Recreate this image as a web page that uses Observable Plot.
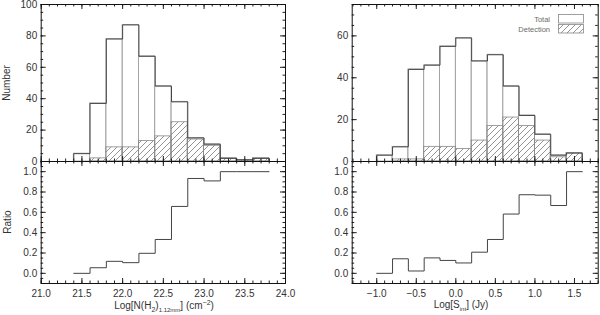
<!DOCTYPE html>
<html><head><meta charset="utf-8">
<script src="https://cdn.jsdelivr.net/npm/d3@7"></script>
<script src="https://cdn.jsdelivr.net/npm/@observablehq/plot@0.6"></script>
<style>
body{margin:0;background:#fff;}
#wrap{position:relative;width:600px;height:315px;font-family:"Liberation Sans",Arial,sans-serif;color:#222;overflow:hidden;}
.lbl{position:absolute;font-size:10px;white-space:nowrap;line-height:1;color:#333;}
.leg{position:absolute;font-size:7.5px;color:#6a6a6a;white-space:nowrap;line-height:1;}
</style></head><body>
<svg width="0" height="0" style="position:absolute">
<defs><pattern id="hatch" patternUnits="userSpaceOnUse" width="6" height="6">
<path d="M-1,1 L1,-1 M0,6 L6,0 M5,7 L7,5" stroke="#666" stroke-width="0.7"/>
</pattern></defs></svg>
<div id="wrap"></div>
<script>
// ---- data: log N(H2) histogram (bin left edges, width 0.2) ----
const binWidth = 0.2;
const nBinLo   = [21.4, 21.6, 21.8, 22.0, 22.2, 22.4, 22.6, 22.8, 23.0, 23.2, 23.4, 23.6];
const nTotal   = [5, 37, 78, 87, 67, 48, 38, 15, 11, 2, 1, 2];
const nDetect  = [0, 2, 9, 9, 13, 16, 25, 14, 10, 2, 1, 2];
const nRatio   = [0, 0.055, 0.118, 0.105, 0.197, 0.333, 0.658, 0.933, 0.909, 1.0, 1.0, 1.0];
// ---- data: log S_int histogram ----
const sBinLo   = [-1.0, -0.8, -0.6, -0.4, -0.2, 0.0, 0.2, 0.4, 0.6, 0.8, 1.0, 1.2, 1.4];
const sTotal   = [3, 7, 44, 46, 55, 59, 48, 51, 36, 22, 13, 3, 4];
const sDetect  = [0, 1, 1, 7, 7, 6, 10, 17, 21, 17, 10, 2, 4];
const sRatio   = [0, 0.143, 0.023, 0.152, 0.127, 0.102, 0.208, 0.333, 0.583, 0.773, 0.769, 0.667, 1.0];
// ---- tick labels ----
const nXTicks = [21.0, 21.5, 22.0, 22.5, 23.0, 23.5, 24.0];
const sXTicks = [-1.0, -0.5, 0.0, 0.5, 1.0, 1.5];
const nYTicks = [0, 20, 40, 60, 80, 100];
const sYTicks = [0, 20, 40, 60];
const ratioTicks = [0.0, 0.2, 0.4, 0.6, 0.8, 1.0];

const wrap = document.getElementById("wrap");
const fmt1 = d3.format(".1f");
const range10 = (a, b) => d3.range(a, b + 1).map(i => i / 10);
const range20 = (a, b) => d3.range(a, b + 1).map(i => i / 20);

function frameTicks(o) {
  const fw = o.width - o.ml - o.mr, fh = o.height - o.mt - o.mb;
  const M = 5, m = 2.5, c = "#222";
  return [
    Plot.tickX(o.xMajor, {x: d => d, insetTop: fh - M, stroke: c}),
    Plot.tickX(o.xMinor, {x: d => d, insetTop: fh - m, stroke: c}),
    Plot.tickX(o.xMajor, {x: d => d, insetBottom: fh - M, stroke: c}),
    Plot.tickX(o.xMinor, {x: d => d, insetBottom: fh - m, stroke: c}),
    Plot.tickY(o.yMajor, {y: d => d, insetRight: fw - M, stroke: c}),
    Plot.tickY(o.yMinor, {y: d => d, insetRight: fw - m, stroke: c}),
    Plot.tickY(o.yMajor, {y: d => d, insetLeft: fw - M, stroke: c}),
    Plot.tickY(o.yMinor, {y: d => d, insetLeft: fw - m, stroke: c}),
    Plot.frame({stroke: "#111", strokeWidth: 1})
  ];
}

function place(svg, left, top) {
  svg.style.position = "absolute";
  svg.style.left = left + "px";
  svg.style.top = top + "px";
  svg.style.overflow = "visible";
  svg.style.background = "transparent";
  wrap.appendChild(svg);
}

function histPanel(o) {
  const bins = o.lo.map((x, i) => ({x1: x, x2: x + binWidth, t: o.total[i], d: o.detect[i]}));
  const last = o.lo.length - 1;
  const env = [{x: o.lo[0], y: 0}, ...o.lo.map((x, i) => ({x, y: o.total[i]})),
               {x: o.lo[last] + binWidth, y: o.total[last]}, {x: o.lo[last] + binWidth, y: 0}];
  const svg = Plot.plot({
    width: o.width, height: o.height,
    marginLeft: o.ml, marginRight: o.mr, marginTop: o.mt, marginBottom: o.mb,
    x: {domain: o.xDomain, axis: null},
    y: {domain: o.yDomain, axis: null},
    style: {fontFamily: "Liberation Sans, Arial, sans-serif", fontSize: "10px", color: "#333", background: "transparent", overflow: "visible"},
    marks: [
      Plot.rect(bins, {x1: "x1", x2: "x2", y1: () => 0, y2: "t", fill: "none", stroke: "#a0a0a0", strokeWidth: 0.8}),
      Plot.rect(bins.filter(b => b.d > 0), {x1: "x1", x2: "x2", y1: () => 0, y2: "d", fill: "url(#hatch)", stroke: "#8a8a8a", strokeWidth: 0.8}),
      Plot.line(env, {x: "x", y: "y", curve: "step-after", stroke: "#444", strokeWidth: 1}),
      ...frameTicks(o),
      Plot.axisY({ticks: o.yLabels, tickSize: 0, tickPadding: 4, label: null, fontSize: 10})
    ]
  });
  place(svg, o.left, o.top);
}

function ratioPanel(o) {
  const last = o.lo.length - 1;
  const pts = [...o.lo.map((x, i) => ({x, y: o.ratio[i]})), {x: o.lo[last] + binWidth, y: o.ratio[last]}];
  const svg = Plot.plot({
    width: o.width, height: o.height,
    marginLeft: o.ml, marginRight: o.mr, marginTop: o.mt, marginBottom: o.mb,
    x: {domain: o.xDomain, axis: null},
    y: {domain: [-0.1, 1.1], axis: null},
    style: {fontFamily: "Liberation Sans, Arial, sans-serif", fontSize: "10px", color: "#333", background: "transparent", overflow: "visible"},
    marks: [
      Plot.line(pts, {x: "x", y: "y", curve: "step-after", stroke: "#444", strokeWidth: 1}),
      ...frameTicks(o),
      Plot.axisY({ticks: ratioTicks, tickSize: 0, tickPadding: 4, label: null, tickFormat: fmt1, fontSize: 10}),
      Plot.axisX({ticks: o.xLabels, tickSize: 0, tickPadding: 6, label: null, tickFormat: fmt1, fontSize: 10})
    ]
  });
  place(svg, o.left, o.top);
}

const L = {ml: 40.7, mr: 15, width: 300};
const R = {ml: 51.7, mr: 2.3, width: 300};

histPanel({...L, left: 0, top: 0, height: 161, mt: 4, mb: 0, lo: nBinLo, total: nTotal, detect: nDetect,
  xDomain: [21, 24], yDomain: [0, 100], xMajor: nXTicks, xMinor: range10(210, 240),
  yMajor: nYTicks, yMinor: d3.range(0, 101, 5), yLabels: nYTicks});
ratioPanel({...L, left: 0, top: 161, height: 122, mt: 0, mb: 0, lo: nBinLo, ratio: nRatio,
  xDomain: [21, 24], xMajor: nXTicks, xMinor: range10(210, 240), xLabels: nXTicks,
  yMajor: ratioTicks, yMinor: range20(-2, 22)});
histPanel({...R, left: 300, top: 0, height: 161, mt: 4, mb: 0, lo: sBinLo, total: sTotal, detect: sDetect,
  xDomain: [-1.31, 1.80], yDomain: [0, 75], xMajor: sXTicks, xMinor: range10(-13, 18),
  yMajor: sYTicks, yMinor: d3.range(0, 76, 5), yLabels: sYTicks});
ratioPanel({...R, left: 300, top: 161, height: 122, mt: 0, mb: 0, lo: sBinLo, ratio: sRatio,
  xDomain: [-1.31, 1.80], xMajor: sXTicks, xMinor: range10(-13, 18), xLabels: sXTicks,
  yMajor: ratioTicks, yMinor: range20(-2, 22)});

function label(html, x, y, rot) {
  const d = document.createElement("div");
  d.className = "lbl";
  d.innerHTML = html;
  d.style.left = x + "px"; d.style.top = y + "px";
  d.style.transform = "translate(-50%,-50%)" + (rot ? " rotate(-90deg)" : "");
  wrap.appendChild(d);
}
label("Number", 7, 83, true);
label("Ratio", 8, 222, true);
label('Log[N(H<sub style="font-size:7px">2</sub>)<sub style="font-size:6px">1.12mm</sub>] (cm<sup style="font-size:7px">&minus;2</sup>)', 164, 306);
label('Log[S<sub style="font-size:6px">int</sub>] (Jy)', 461, 306);

// legend
const legTexts = ["Total", "Detection"];
const legFills = ["none", "url(#hatch)"];
legTexts.forEach((t, i) => {
  const d = document.createElement("div");
  d.className = "leg";
  d.textContent = t;
  d.style.right = (600 - 550) + "px";
  d.style.top = (20 + i * 10) + "px";
  d.style.transform = "translateY(-50%)";
  wrap.appendChild(d);
});
const ns = "http://www.w3.org/2000/svg";
const ls = document.createElementNS(ns, "svg");
ls.setAttribute("width", 600); ls.setAttribute("height", 315);
ls.style.position = "absolute"; ls.style.left = "0"; ls.style.top = "0"; ls.style.pointerEvents = "none";
legFills.forEach((f, i) => {
  const r = document.createElementNS(ns, "rect");
  r.setAttribute("x", 558.5); r.setAttribute("y", 14.5 + i * 10);
  r.setAttribute("width", 25); r.setAttribute("height", 8.5);
  r.setAttribute("fill", f); r.setAttribute("stroke", "#888"); r.setAttribute("stroke-width", 0.8);
  ls.appendChild(r);
});
wrap.appendChild(ls);
</script>
</body></html>
